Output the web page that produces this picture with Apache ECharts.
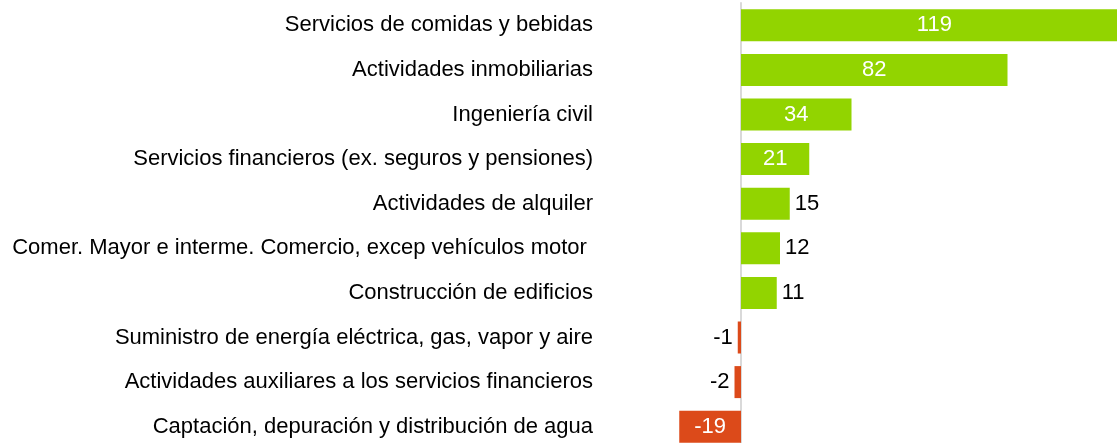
<!DOCTYPE html>
<html>
  <head>
    <meta charset="utf-8" />
    <title>Sectores</title>
    <script src="https://cdnjs.cloudflare.com/ajax/libs/echarts/6.0.0/echarts.min.js"></script>
  </head>
  <body>
    <style>
      html,
      body {
        width: 100%;
        margin: 0;
        padding: 0;
        background: #ffffff;
      }
      #main {
        width: 1117px;
        height: 443px;
      }
    </style>
    <div id="main"></div>
    <script type="text/javascript">
      var categories = [
        'Servicios de comidas y bebidas',
        'Actividades inmobiliarias',
        'Ingeniería civil',
        'Servicios financieros (ex. seguros y pensiones)',
        'Actividades de alquiler',
        'Comer. Mayor e interme. Comercio, excep vehículos motor ',
        'Construcción de edificios',
        'Suministro de energía eléctrica, gas, vapor y aire',
        'Actividades auxiliares a los servicios financieros',
        'Captación, depuración y distribución de agua'
      ];
      var values = [119, 82, 34, 21, 15, 12, 11, -1, -2, -19];

      var GREEN = '#92d400';
      var RED = '#dc4a1a';

      var chartDom = document.getElementById('main');
      var myChart = echarts.init(chartDom);

      // big bars carry their number inside, small ones outside
      var barData = values.map(function (v) {
        var inside = Math.abs(v) >= 19;
        return {
          value: v,
          itemStyle: { color: v >= 0 ? GREEN : RED },
          label: {
            position: inside ? 'inside' : (v >= 0 ? 'right' : 'left'),
            color: inside ? '#ffffff' : '#000000',
            distance: 5
          }
        };
      });

      var option = {
        animation: false,
        grid: {
          left: 676,
          top: 3,
          width: 455,
          height: 446,
          containLabel: false,
          outerBoundsMode: 'none'
        },
        xAxis: {
          type: 'value',
          min: -20,
          max: 120,
          show: false,
          splitLine: { show: false }
        },
        yAxis: {
          type: 'category',
          data: categories,
          inverse: true,
          axisLine: {
            onZero: true,
            lineStyle: { color: '#d9d9d9', width: 2 }
          },
          axisTick: { show: false },
          axisLabel: {
            margin: 83,
            fontFamily: 'Liberation Sans, Arial, sans-serif',
            fontSize: 22,
            color: '#000000'
          }
        },
        series: [
          {
            type: 'bar',
            data: barData,
            barWidth: 32,
            label: {
              show: true,
              fontFamily: 'Liberation Sans, Arial, sans-serif',
              fontSize: 22
            }
          }
        ]
      };

      myChart.setOption(option);
    </script>
  </body>
</html>
